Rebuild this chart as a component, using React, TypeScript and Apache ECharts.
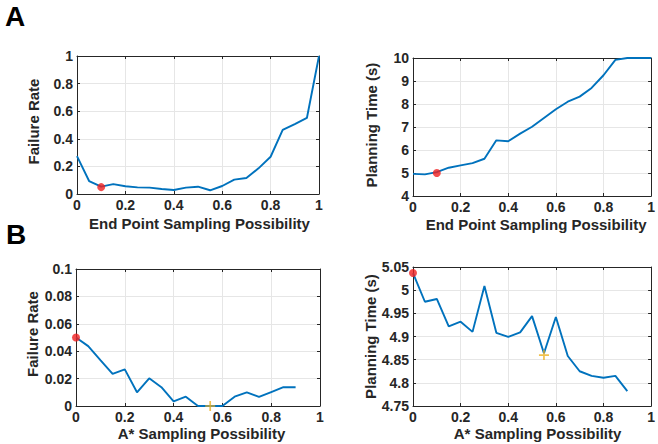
import React, { useEffect, useRef } from "react";
import * as echarts from "echarts";

const X_END = [0, 0.05, 0.1, 0.15, 0.2, 0.25, 0.3, 0.35, 0.4, 0.45, 0.5, 0.55, 0.6, 0.65, 0.7, 0.75, 0.8, 0.85, 0.9, 0.95, 1];
const FAIL_END = [0.275, 0.094, 0.053, 0.072, 0.056, 0.048, 0.046, 0.036, 0.029, 0.046, 0.053, 0.027, 0.058, 0.104, 0.116, 0.186, 0.27, 0.464, 0.507, 0.551, 1.0];
const TIME_END = [4.96, 4.94, 5.04, 5.23, 5.33, 5.43, 5.62, 6.42, 6.38, 6.71, 7.01, 7.39, 7.77, 8.1, 8.32, 8.7, 9.25, 9.92, 10, 10, 10];

const X_ASTAR = [0, 0.05, 0.1, 0.15, 0.2, 0.25, 0.3, 0.35, 0.4, 0.45, 0.5, 0.55, 0.6, 0.65, 0.7, 0.75, 0.8, 0.85, 0.9];
const FAIL_ASTAR = [0.05, 0.0437, 0.0335, 0.0234, 0.0267, 0.01, 0.0202, 0.0137, 0.0034, 0.0068, 0, 0, 0, 0.0068, 0.01, 0.0066, 0.0102, 0.0137, 0.0137];
const TIME_ASTAR = [5.037, 4.975, 4.981, 4.922, 4.932, 4.91, 5.009, 4.908, 4.899, 4.909, 4.944, 4.864, 4.942, 4.858, 4.825, 4.815, 4.811, 4.815, 4.782];

const BEST_END_FAIL = [0.1, 0.05];
const BEST_END_TIME = [0.1, 5.0];
const BASE_ASTAR_FAIL = [0, 0.05];
const BASE_ASTAR_TIME = [0, 5.037];
const BEST_ASTAR_FAIL = [0.55, 0];
const BEST_ASTAR_TIME = [0.55, 4.86];

const X_TITLES = ["End Point Sampling Possibility", "End Point Sampling Possibility", "A* Sampling Possibility", "A* Sampling Possibility"];
const Y_TITLES = ["Failure Rate", "Planning Time (s)", "Failure Rate", "Planning Time (s)"];
const Y_RANGES = [
  [0, 1, 0.2],
  [4, 10, 1],
  [0, 0.1, 0.02],
  [4.75, 5.05, 0.05],
];
const PANEL_LABELS = ["A", "B"];

const FONT = "'Liberation Sans', Arial, Helvetica, sans-serif";
const AX = "#262626";
const BLUE = "#0072BD";
const RED = "#F01F1F";
const ORANGE = "#EDB120";
const PLUS = "path://M-1.7,-10H1.7V10H-1.7Z M-10,-1.7H10V1.7H-10Z";

export default function App() {
  const ref = useRef<HTMLDivElement>(null);
  useEffect(() => {
    if (!ref.current) return;
    const chart = echarts.init(ref.current, null, { renderer: "svg" });
    const grids = [
      { left: 77, top: 56, width: 242, height: 138 },
      { left: 413, top: 58, width: 243, height: 138 },
      { left: 76, top: 269, width: 244, height: 137 },
      { left: 413, top: 267, width: 243, height: 139 },
    ];
    const yGaps = [36, 34, 36, 34];
    const xGaps = [22, 21, 20, 20];
    const xShift = [3, 8, 7, 11];
    const yShift = [7, 4, 7, 0];
    const xAxis: any[] = [];
    const yAxis: any[] = [];
    grids.forEach((g, i) => {
      const [ymin, ymax, yint] = Y_RANGES[i];
      xAxis.push({
        type: "value", gridIndex: i, min: 0, max: 1, interval: 0.2, position: "bottom",
        name: X_TITLES[i], nameLocation: "middle", nameGap: xGaps[i],
        nameTextStyle: { fontFamily: FONT, fontWeight: "bold", fontSize: 15, color: AX, padding: [0, 0, 0, xShift[i]] },
        axisLine: { show: true, onZero: false, lineStyle: { color: AX, width: 1 } },
        axisTick: { show: true, inside: true, length: 3, lineStyle: { color: AX } },
        axisLabel: { fontFamily: FONT, fontWeight: "bold", fontSize: 14, color: AX, margin: 4 },
        splitLine: { show: true, lineStyle: { color: "#e6e6e6", width: 1 } },
      });
      xAxis.push({
        type: "value", gridIndex: i, min: 0, max: 1, interval: 0.2, position: "top",
        axisLine: { show: true, onZero: false, lineStyle: { color: AX, width: 1 } },
        axisTick: { show: true, inside: true, length: 3, lineStyle: { color: AX } },
        axisLabel: { show: false },
        splitLine: { show: false },
      });
      yAxis.push({
        type: "value", gridIndex: i, min: ymin, max: ymax, interval: yint, position: "left",
        name: Y_TITLES[i], nameLocation: "middle", nameGap: yGaps[i],
        nameTextStyle: { fontFamily: FONT, fontWeight: "bold", fontSize: 15, color: AX, padding: [0, 0, 0, yShift[i]] },
        axisLine: { show: true, onZero: false, lineStyle: { color: AX, width: 1 } },
        axisTick: { show: true, inside: true, length: 3, lineStyle: { color: AX } },
        axisLabel: { fontFamily: FONT, fontWeight: "bold", fontSize: 14, color: AX, margin: 4 },
        splitLine: { show: true, lineStyle: { color: "#e6e6e6", width: 1 } },
      });
      yAxis.push({
        type: "value", gridIndex: i, min: ymin, max: ymax, interval: yint, position: "right",
        axisLine: { show: true, onZero: false, lineStyle: { color: AX, width: 1 } },
        axisTick: { show: true, inside: true, length: 3, lineStyle: { color: AX } },
        axisLabel: { show: false },
        splitLine: { show: false },
      });
    });

    const lineSeries = (i: number, xs: number[], ys: number[]) => ({
      type: "line", xAxisIndex: i * 2, yAxisIndex: i * 2,
      data: xs.map((x, k) => [x, ys[k]]),
      showSymbol: false, symbol: "none",
      lineStyle: { color: BLUE, width: 1.9 },
      z: 2,
    });
    const markSeries = (i: number, pt: number[], kind: "dot" | "plus") => ({
      type: "scatter", xAxisIndex: i * 2, yAxisIndex: i * 2, clip: false,
      data: [pt],
      symbol: kind === "dot" ? "circle" : PLUS,
      symbolSize: kind === "dot" ? 8 : 10,
      itemStyle: { color: kind === "dot" ? RED : ORANGE },
      z: 5,
    });

    chart.setOption({
      animation: false,
      backgroundColor: "#ffffff",
      grid: grids.map((g) => ({ ...g, containLabel: false })),
      xAxis,
      yAxis,
      graphic: [
        { type: "text", left: 5, top: 2, style: { text: PANEL_LABELS[0], font: `bold 28px ${FONT}`, fill: "#000" } },
        { type: "text", left: 6, top: 220, style: { text: PANEL_LABELS[1], font: `bold 28px ${FONT}`, fill: "#000" } },
      ],
      series: [
        lineSeries(0, X_END, FAIL_END),
        markSeries(0, BEST_END_FAIL, "dot"),
        lineSeries(1, X_END, TIME_END),
        markSeries(1, BEST_END_TIME, "dot"),
        lineSeries(2, X_ASTAR, FAIL_ASTAR),
        markSeries(2, BASE_ASTAR_FAIL, "dot"),
        markSeries(2, BEST_ASTAR_FAIL, "plus"),
        lineSeries(3, X_ASTAR, TIME_ASTAR),
        markSeries(3, BASE_ASTAR_TIME, "dot"),
        markSeries(3, BEST_ASTAR_TIME, "plus"),
      ],
    });
    return () => chart.dispose();
  }, []);
  return <div ref={ref} style={{ position: "fixed", left: 0, top: 0, width: 658, height: 444, background: "#fff" }} />;
}
